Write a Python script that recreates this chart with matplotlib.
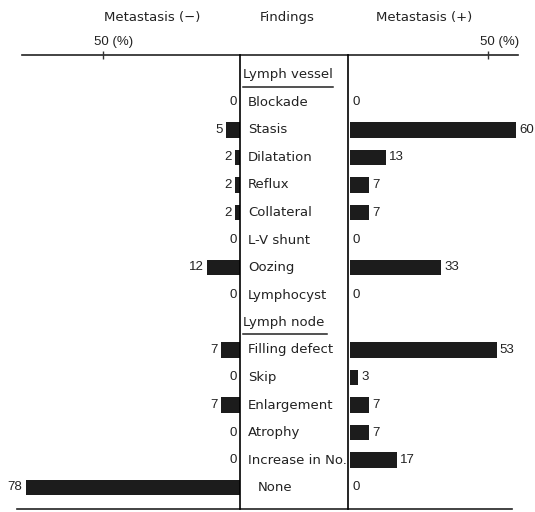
import matplotlib
matplotlib.use("Agg")
import matplotlib.pyplot as plt
import matplotlib.transforms as mtransforms

# findings, grouped under two headers
vessel_findings = ["Blockade", "Stasis", "Dilatation", "Reflux", "Collateral",
                   "L-V shunt", "Oozing", "Lymphocyst"]
node_findings = ["Filling defect", "Skip", "Enlargement", "Atrophy",
                 "Increase in No.", "None"]

# percentages, metastasis (-) and metastasis (+)
vessel_neg = [0, 5, 2, 2, 2, 0, 12, 0]
vessel_pos = [0, 60, 13, 7, 7, 0, 33, 0]
node_neg = [7, 0, 7, 0, 0, 78]
node_pos = [53, 3, 7, 7, 17, 0]

W, H = 535, 512
fig = plt.figure(figsize=(W / 100, H / 100), dpi=100)

def box(x0, x1, y0=55, y1=509):
    # pixel box -> figure fraction
    return [x0 / W, 1 - y1 / H, (x1 - x0) / W, (y1 - y0) / H]

# row positions: header rows at 0 and 9
vessel_rows = list(range(1, 1 + len(vessel_findings)))
node_rows = list(range(10, 10 + len(node_findings)))
rows = vessel_rows + node_rows
neg = vessel_neg + node_neg
pos = vessel_pos + node_pos
labels = vessel_findings + node_findings
ylim = ((509 - 75) / 27.5, (55 - 75) / 27.5)

num_font = ["Liberation Sans", "DejaVu Sans"]
txt_font = ["DejaVu Sans"]
bar_color = "#1c1c1c"
ink = "#222222"

axl = fig.add_axes(box(20, 240))
axc = fig.add_axes(box(240, 348))
axr = fig.add_axes(box(348, 518))
ov = fig.add_axes([0, 0, 1, 1], zorder=-1)
ov.set_xlim(0, W)
ov.set_ylim(H, 0)
ov.axis("off")

axl.set_xlim(220 / 2.75, 0)
axr.set_xlim(-2 / 2.8, 170 / 2.8)
for ax in (axl, axc, axr):
    ax.set_ylim(*ylim)
    ax.set_facecolor("none")
    for s in ax.spines.values():
        s.set_visible(False)
    ax.set_yticks([])

axl.barh(rows, neg, height=0.55, color=bar_color)
axr.barh(rows, pos, height=0.55, color=bar_color)

for ax, sign in ((axl, -1), (axr, 1)):
    off = mtransforms.offset_copy(ax.transData, fig=fig, x=3 * sign, y=0, units="dots")
    vals = neg if sign < 0 else pos
    for r, v in zip(rows, vals):
        ax.text(v, r, str(v), transform=off, ha="left" if sign > 0 else "right",
                va="center", fontsize=9.5, family=num_font, color=ink)
    ax.set_xticks([50])
    ax.set_xticklabels(["50 (%)"], ha="left", family=num_font, fontsize=9.5,
                       color=ink)
    ax.tick_params(axis="x", top=True, bottom=False, labeltop=True,
                   labelbottom=False, direction="inout", length=6, width=1,
                   pad=2, color="#333333")
    shift = mtransforms.ScaledTranslation(-8 / 100, 0, fig.dpi_scale_trans)
    for lab in ax.get_xticklabels():
        lab.set_transform(lab.get_transform() + shift)

# center box with findings
axc.set_xlim(0, 108)
axc.set_xticks([])
axc.spines["left"].set_visible(True)
axc.spines["right"].set_visible(True)
axc.spines["left"].set_linewidth(1.2)
axc.spines["right"].set_linewidth(1.2)
for r, lab in zip(rows, labels):
    x = 18 if lab == "None" else 8
    axc.text(x, r, lab, ha="left", va="center", fontsize=9.5, family=txt_font,
             color=ink)
for r, lab in ((0, "Lymph vessel"), (9, "Lymph node")):
    axc.text(3, r, lab, ha="left", va="center", fontsize=9.5,
             family=txt_font, color=ink)

# underlines for the group headers and the frame lines
ov.plot([243, 333], [87, 87], color=ink, lw=1.1)
ov.plot([243, 327], [334, 334], color=ink, lw=1.1)
ov.plot([22, 518], [55, 55], color=ink, lw=1.2)
ov.plot([17, 512], [509, 509], color=ink, lw=1.2)

ov.text(152, 18, "Metastasis (\u2212)", ha="center", va="center", fontsize=9.5,
        family=txt_font, color=ink)
ov.text(287, 18, "Findings", ha="center", va="center", fontsize=9.5,
        family=txt_font, color=ink)
ov.text(424, 18, "Metastasis (+)", ha="center", va="center", fontsize=9.5,
        family=txt_font, color=ink)

fig.savefig("out.png", dpi=100)
